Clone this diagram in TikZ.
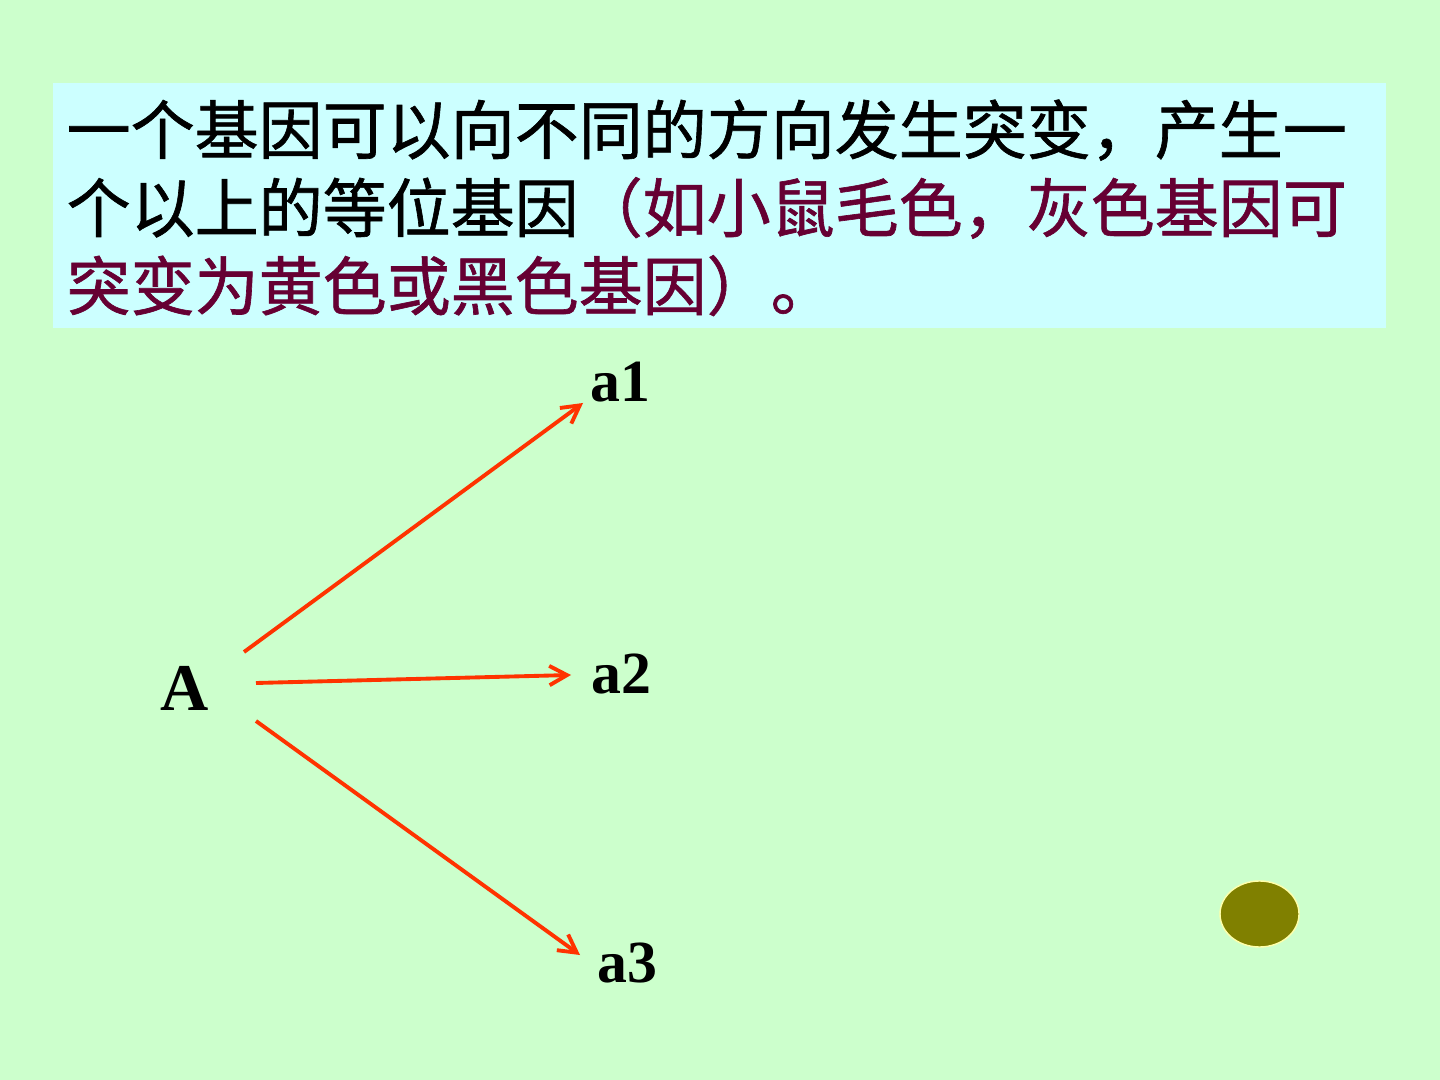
\documentclass[tikz,border=0pt]{standalone}
\usepackage{fontspec}
\setmainfont{Liberation Serif}
\newfontfamily\cjk[FakeBold=1]{Noto Sans CJK SC}
\usetikzlibrary{arrows.meta}
\definecolor{slidebg}{RGB}{204,255,204}
\definecolor{boxbg}{RGB}{204,255,255}
\definecolor{maroon}{RGB}{102,0,51}
\definecolor{arrowred}{RGB}{255,51,0}
\definecolor{olivedot}{RGB}{128,128,0}
\definecolor{dotrim}{RGB}{255,255,170}

\begin{document}
\begin{tikzpicture}[x=0.01cm,y=-0.01cm,
   allele/.style={anchor=base,inner sep=0pt,font=\fontsize{17}{20}\selectfont\bfseries},
   mutate/.style={draw=arrowred,line width=1.1pt,-{Straight Barb[length=5pt,width=5.5pt]}}]
   \useasboundingbox (0,0) rectangle (1440,1080);
   \fill[slidebg] (0,0) rectangle (1440,1080);
   \fill[boxbg] (53,83) rectangle (1386,328);
   \node[anchor=base west,inner sep=0pt,align=left,
         font=\cjk\fontsize{18.2}{22.2}\selectfont] (intro) at (66,310)
     {一个基因可以向不同的方向发生突变，产生一\\
      个以上的等位基因\textcolor{maroon}{（如小鼠毛色，灰色基因可}\\
      \textcolor{maroon}{突变为黄色或黑色基因）。}};
   \node[allele,font=\fontsize{19}{22}\selectfont\bfseries] (A) at (185,711) {A};
   \node[allele] (a_1) at (620,402) {a1};
   \node[allele] (a_2) at (621,693) {a2};
   \node[allele] (a_3) at (627,982) {a3};
   \draw[mutate] ([shift={(59,-59)}]A.base) -- ([shift={(-37,1)}]a_1.base);
   \draw[mutate] ([shift={(71,-28)}]A.base) -- ([shift={(-50,-18)}]a_2.base);
   \draw[mutate] ([shift={(71,10)}]A.base) -- ([shift={(-47,-27)}]a_3.base);
   \fill[olivedot,draw=dotrim,line width=0.4pt] (1259.5,914) ellipse [x radius=39.5,y radius=33];
\end{tikzpicture}
\end{document}
